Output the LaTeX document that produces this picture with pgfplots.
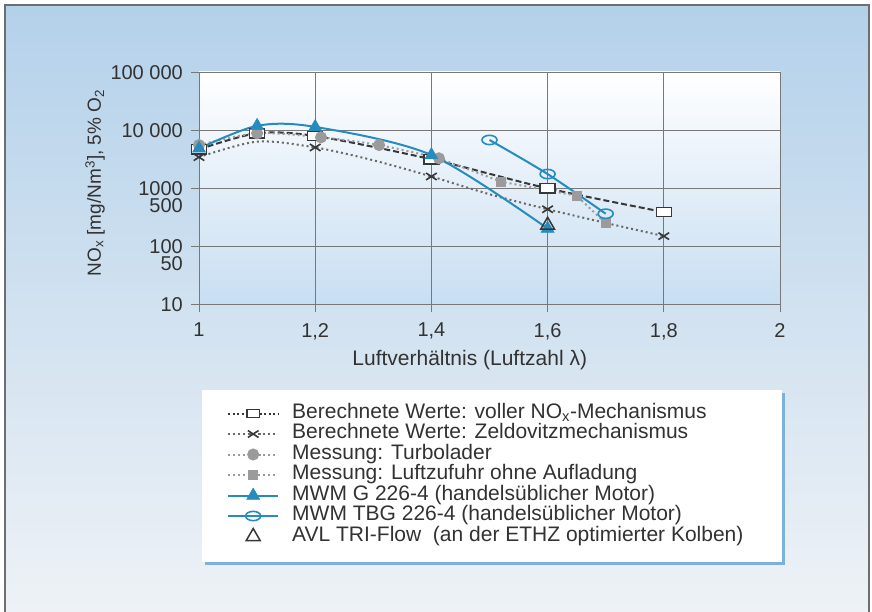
\documentclass[border=0pt]{standalone}
\usepackage{fontspec}
\setmainfont{Liberation Sans}
\usepackage{pgfplots}
\pgfplotsset{compat=1.18}
\definecolor{bgtop}{RGB}{180,209,234}
\definecolor{bgmid}{RGB}{212,228,242}
\definecolor{bgbot}{RGB}{238,242,246}
\definecolor{plotbot}{RGB}{200,222,242}
\definecolor{blueline}{RGB}{38,140,192}
\definecolor{darkg}{RGB}{55,55,55}
\definecolor{midg}{RGB}{105,105,105}
\definecolor{lightg}{RGB}{155,155,155}
\definecolor{txt}{RGB}{50,50,50}
\definecolor{gridcol}{RGB}{120,120,120}
\definecolor{framecol}{RGB}{110,110,110}
\definecolor{shadowblue}{RGB}{126,176,220}
\pgfplotsset{
  linelegend/.style={legend image code/.code={\draw[##1, mark indices={2}] plot coordinates {(0pt,0pt) (25pt,0pt) (50pt,0pt)};}},
  marklegend/.style={legend image code/.code={\path[##1] plot coordinates {(25pt,0pt)};}},
}
\begin{document}
\begin{tikzpicture}[x=1pt,y=1pt]
\useasboundingbox (0,0) rectangle (872,612);
\fill[white] (0,0) rectangle (872,612);
\shade[top color=bgtop, middle color=bgmid, bottom color=bgbot] (5,0) rectangle (869,607);
\draw[framecol, line width=1.2pt] (5,0) -- (5,607) -- (869,607) -- (869,0);
\fill[shadowblue] (205,47) rectangle (785,219);
\fill[white] (202,50) rectangle (782,222);
\begin{axis}[
  at={(199pt,308pt)}, anchor=south west,
  scale only axis, width=581pt, height=232pt,
  xmin=1, xmax=2, ymin=10, ymax=100000, ymode=log,
  xtick={1,1.2,1.4,1.6,1.8,2},
  xticklabels={1,{1,2},{1,4},{1,6},{1,8},2},
  ytick={10,100,1000,10000,100000},
  yticklabels={10,100,1000,10 000,100 000},
  extra y ticks={50,500},
  extra y tick labels={50,500},
  extra y tick style={grid=none, tick style={draw=none}},
  yminorticks=false,
  grid=major,
  major grid style={gridcol, line width=0.8pt},
  axis line style={gridcol, line width=0.8pt},
  tick style={gridcol, line width=0.8pt},
  tick align=outside, tick pos=left, major tick length=8pt,
  tick label style={font=\fontsize{20}{20}\selectfont, text=txt},
  xticklabel style={inner sep=0pt, anchor=north, yshift=-11pt},
  yticklabel style={inner sep=0pt, anchor=east, xshift=-8pt, text height=14.3pt, text depth=0pt},
  axis background/.style={shade, top color=white, bottom color=plotbot},
  xlabel={Luftverhältnis (Luftzahl λ)},
  xlabel style={font=\fontsize{21}{21}\selectfont, text=txt, at={(axis description cs:0.466,-0.263)}, anchor=base},
  ylabel={NO\textsubscript{x} [mg/Nm\textsuperscript{3}], 5\% O\textsubscript{2}},
  ylabel style={font=\fontsize{19}{19}\selectfont, text=txt, at={(axis description cs:-0.179,0.5216)}, anchor=center},
  clip=false,
  legend cell align=left,
  linelegend,
  legend style={at={(axis description cs:0.0482,-0.427)}, anchor=north west,
    draw=none, fill=none, inner sep=0pt, row sep=0pt,
    font=\fontsize{21}{21}\selectfont, text=txt,
    nodes={inner sep=0pt, text height=15pt, text depth=5.5pt},
    /tikz/every odd column/.append style={column sep=13pt}},
]
% Berechnete Werte: voller NOx-Mechanismus
\addplot[darkg, line width=2pt, dash pattern=on 6pt off 3pt, smooth,
  mark=square*, mark size=4.7pt, mark options={solid, fill=white, draw=darkg, line width=1.4pt, xscale=1.6},
  legend image post style={dash pattern=on 2pt off 2.5pt, mark size=3.8pt}]
  coordinates {(1.0,4640)(1.1,8770)(1.2,7880)(1.4,3130)(1.6,985)(1.8,385)};
\addlegendentry{Berechnete Werte: voller NO\textsubscript{x}-Mechanismus}
% Zeldovitz
\addplot[midg, line width=2pt, dash pattern=on 2pt off 3pt, smooth,
  mark=x, mark size=7.5pt, mark indices={1,3,5,7,9}, mark options={solid, darkg, line width=1.6pt, yscale=0.65}]
  coordinates {(1.0,3400)(1.1,6300)(1.2,5000)(1.3,3000)(1.4,1580)(1.5,780)(1.6,430)(1.7,250)(1.8,148)};
\addlegendentry{Berechnete Werte: Zeldovitzmechanismus}
% Turbolader
\addplot[lightg, line width=2pt, dash pattern=on 2pt off 3pt, smooth,
  mark=*, mark size=5pt, mark options={solid, fill=lightg, draw=lightg}]
  coordinates {(1.0,5500)(1.1,8780)(1.21,7480)(1.31,5500)(1.413,3250)};
\addlegendentry{Messung: Turbolader}
% Luftzufuhr ohne Aufladung
\addplot[lightg, line width=2pt, dash pattern=on 2pt off 3pt,
  mark=square*, mark size=4pt, mark indices={2,3,4}, mark options={solid, fill=lightg, draw=lightg}]
  coordinates {(1.413,3250)(1.52,1285)(1.65,736)(1.70,246)};
\addlegendentry{Messung: Luftzufuhr ohne Aufladung}
% MWM G 226-4
\addplot[blueline, line width=2pt, smooth,
  mark=triangle*, mark size=7.5pt, mark options={solid, fill=blueline, draw=blueline, line width=0.5pt}]
  coordinates {(1.0,4800)(1.1,11800)(1.2,11300)(1.4,3700)(1.6,200)};
\addlegendentry{MWM G 226-4 (handelsüblicher Motor)}
% MWM TBG 226-4
\addplot[blueline, line width=2pt, smooth,
  mark=o, mark size=7.5pt, mark options={solid, draw=blueline, line width=1.6pt, yscale=0.62}]
  coordinates {(1.5,6730)(1.6,1740)(1.7,360)};
\addlegendentry{MWM TBG 226-4 (handelsüblicher Motor)}
% AVL TRI-Flow
\addplot[only marks, mark=triangle, mark size=8pt, mark options={fill=white, draw=darkg, line width=1.5pt}, marklegend]
  coordinates {(1.6,228)};
\addlegendentry{AVL TRI-Flow\ \ (an der ETHZ optimierter Kolben)}
\end{axis}
\end{tikzpicture}
\end{document}
